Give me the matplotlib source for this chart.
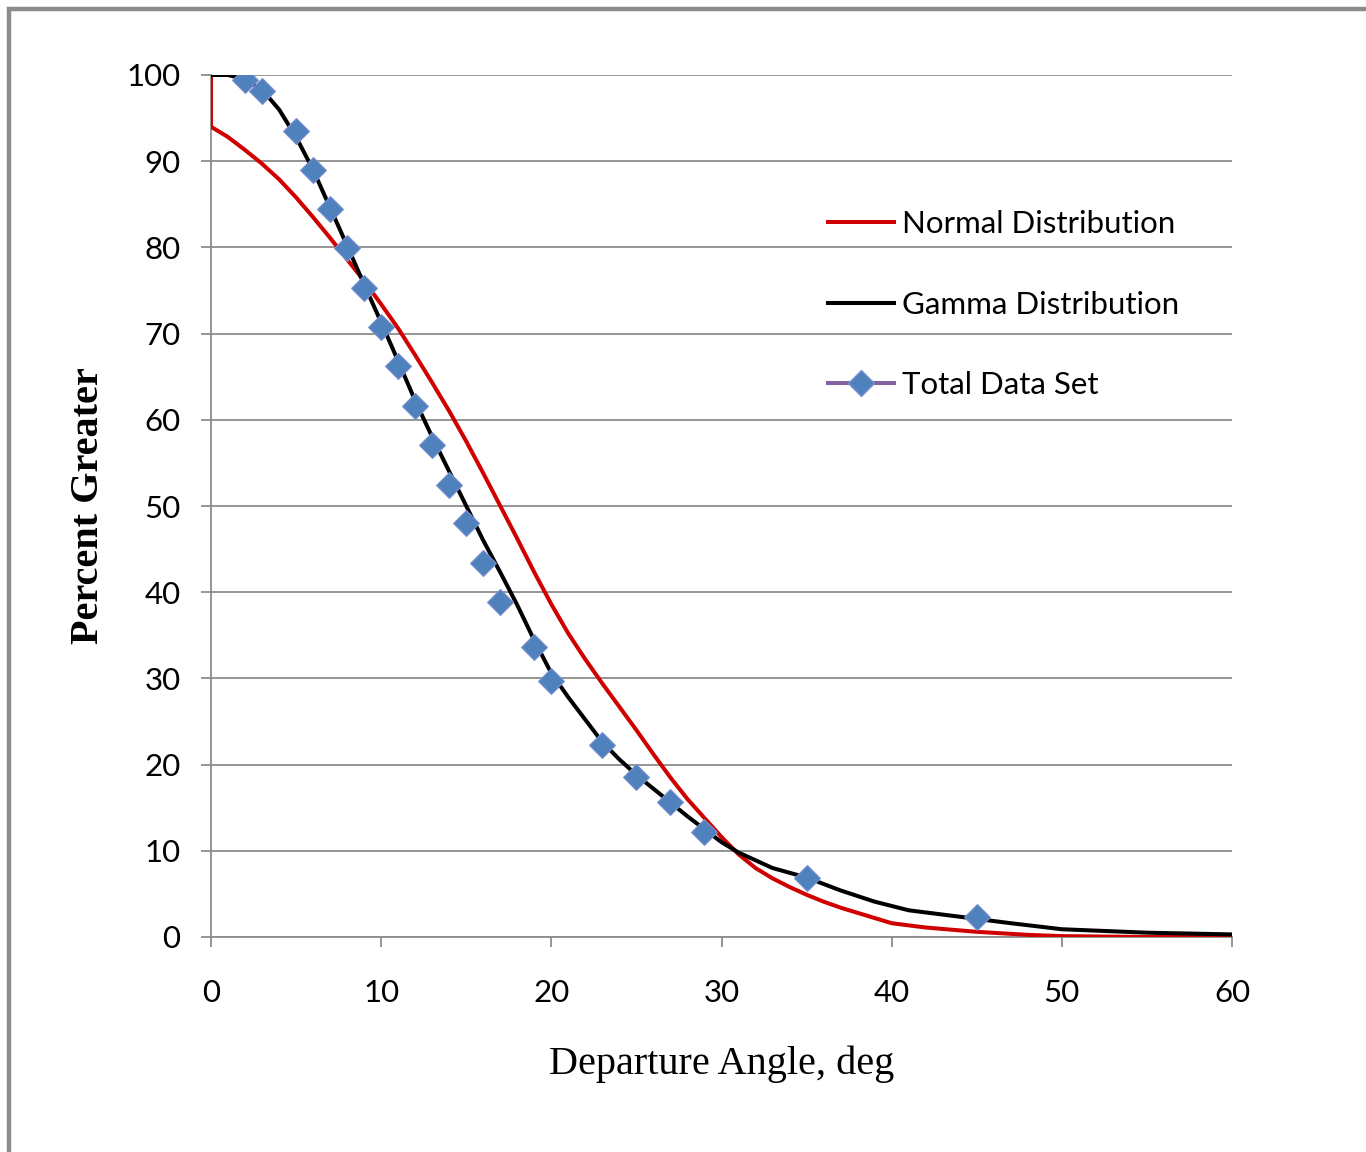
import numpy as np
import matplotlib
matplotlib.use("Agg")
import matplotlib.pyplot as plt
from matplotlib.lines import Line2D
from matplotlib.patches import Rectangle

# Normal distribution curve (percent greater vs departure angle)
normal_x = [0, 0, 1, 2, 3, 4, 5, 6, 7, 8, 9, 10, 11, 12, 13, 14, 15, 16, 17, 18, 19, 20,
            21, 22, 23, 24, 25, 26, 27, 28, 29, 30, 31, 32, 33, 34, 35, 36, 37, 38, 39,
            40, 42, 45, 48, 50, 55, 60]
normal_y = [100, 94.0, 92.8, 91.3, 89.7, 87.9, 85.8, 83.5, 81.1, 78.6, 76.1, 73.4, 70.6,
            67.5, 64.3, 61.0, 57.5, 53.8, 50.0, 46.2, 42.3, 38.6, 35.2, 32.2, 29.4, 26.7,
            24.0, 21.2, 18.5, 16.0, 13.8, 11.6, 9.6, 8.0, 6.8, 5.8, 4.9, 4.1, 3.4, 2.8,
            2.2, 1.6, 1.1, 0.6, 0.25, 0.1, 0.0, 0.0]

# Gamma distribution curve
gamma_x = [0, 1, 2, 3, 4, 5, 6, 7, 8, 9, 10, 11, 12, 13, 14, 15, 16, 17, 18, 19, 20,
           21, 22, 23, 24, 25, 26, 27, 28, 29, 30, 31, 32, 33, 35, 37, 39, 41, 43, 45,
           47, 50, 55, 60]
gamma_y = [100, 100, 99.5, 98.3, 96.0, 92.8, 89.0, 84.6, 80.2, 75.7, 71.3, 66.8, 62.2,
           58.0, 54.0, 50.0, 46.0, 42.3, 38.5, 34.4, 30.6, 27.8, 25.2, 22.6, 20.6, 18.8,
           17.2, 15.6, 14.0, 12.5, 11.0, 9.8, 8.9, 8.0, 6.9, 5.4, 4.1, 3.1, 2.6, 2.1,
           1.6, 0.9, 0.5, 0.3]

# Total data set (measured points)
data_x = [2, 3, 5, 6, 7, 8, 9, 10, 11, 12, 13, 14, 15, 16, 17, 19, 20, 23, 25, 27, 29, 35, 45]
data_y = [99.4, 98.2, 93.5, 89.0, 84.5, 79.9, 75.3, 70.8, 66.2, 61.6, 57.1, 52.4, 48.0,
          43.4, 38.9, 33.6, 29.7, 22.3, 18.6, 15.7, 12.2, 6.8, 2.3]

x_ticks = [0, 10, 20, 30, 40, 50, 60]
y_ticks = [0, 10, 20, 30, 40, 50, 60, 70, 80, 90, 100]

grey = "#8c8c8c"
red = "#d00000"
blue = "#4f81bd"
purple = "#8064a2"
tick_font = "Lato"
label_font = "Liberation Serif"

fig = plt.figure(figsize=(13.66, 11.52), dpi=100)
ax = fig.add_axes([211 / 1366, 1 - 937 / 1152, 1021 / 1366, 862 / 1152])

# outer chart border (runs off the right and bottom edge)
fig.patches.append(Rectangle((9 / 1366, -0.05), 1.2, 1 - 9 / 1152 + 0.05,
                             transform=fig.transFigure, fill=False,
                             edgecolor=grey, linewidth=3.2))

ax.plot(normal_x, normal_y, color=red, lw=2.9, zorder=3, solid_joinstyle="round")
ax.plot(gamma_x, gamma_y, color="black", lw=2.9, zorder=4, solid_joinstyle="round")
ax.plot(data_x, data_y, linestyle="none", marker="D", markersize=13.5,
        markerfacecolor=blue, markeredgecolor="#7b8fd0", markeredgewidth=0.8, zorder=5)

ax.set_xlim(0, 60)
ax.set_ylim(0, 100)
ax.set_xticks(x_ticks)
ax.set_yticks(y_ticks)
ax.grid(axis="y", color=grey, lw=1.3)
ax.set_axisbelow(True)

for side in ["top", "right"]:
    ax.spines[side].set_visible(False)
for side in ["left", "bottom"]:
    ax.spines[side].set_color(grey)
    ax.spines[side].set_linewidth(1.3)
ax.tick_params(axis="both", colors=grey, width=1.3, length=7)
ax.tick_params(axis="x", pad=23)
ax.tick_params(axis="y", pad=15)
for lab in ax.get_xticklabels() + ax.get_yticklabels():
    lab.set_fontfamily(tick_font)
    lab.set_fontsize(22.5)
    lab.set_color("black")

ax.set_xlabel("Departure Angle, deg", fontfamily=label_font, fontsize=29, labelpad=28)
ax.set_ylabel("Percent Greater", fontfamily=label_font, fontsize=29,
              fontweight="bold", labelpad=14)

handles = [
    Line2D([], [], color=red, lw=2.9),
    Line2D([], [], color="black", lw=2.9),
    Line2D([], [], color=purple, lw=2.9, marker="D", markersize=13.5,
           markerfacecolor=blue, markeredgecolor="#7b8fd0"),
]
labels = ["Normal Distribution", "Gamma Distribution", "Total Data Set"]
leg = ax.legend(handles, labels, loc="upper left", bbox_to_anchor=(0.577, 0.876),
                frameon=False, handlelength=2.1, handletextpad=0.25,
                labelspacing=1.68, prop={"family": tick_font, "size": 22.5})

fig.savefig("out.png", dpi=100)
